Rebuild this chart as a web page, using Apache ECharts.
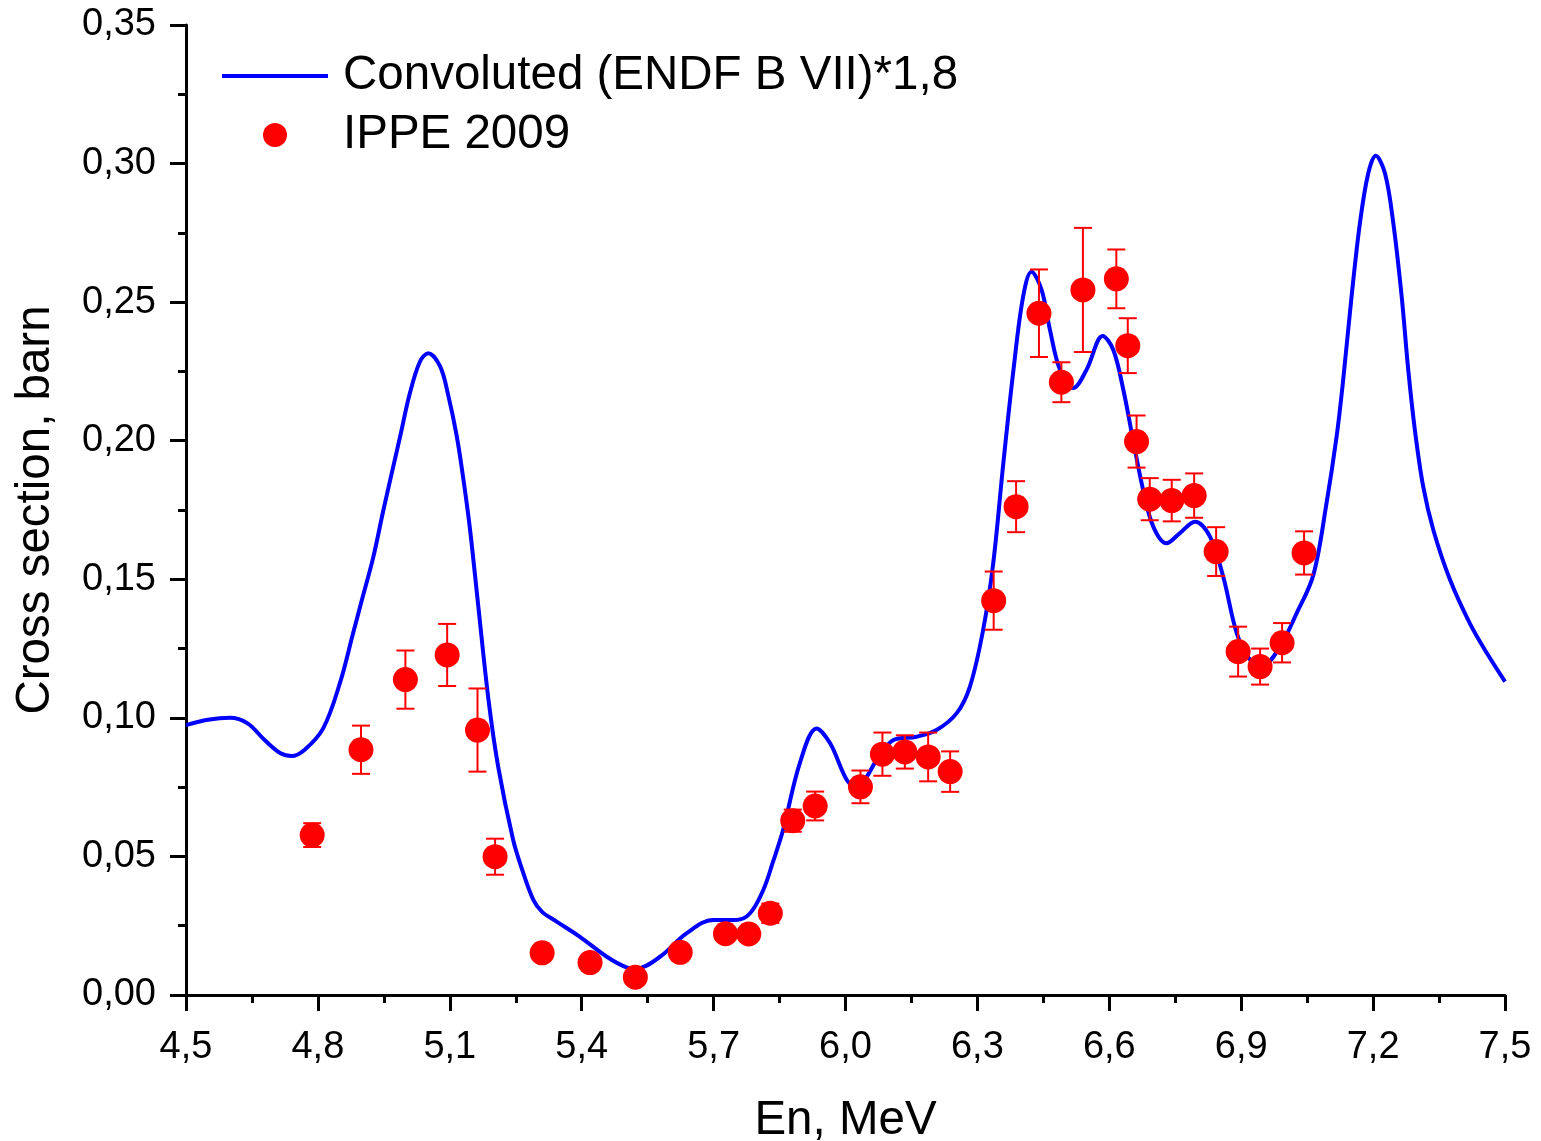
<!DOCTYPE html>
<html>
<head>
<meta charset="utf-8">
<script src="https://cdn.jsdelivr.net/npm/echarts@6/dist/echarts.min.js"></script>
<style>
html,body{margin:0;padding:0;background:#fff;}
#chart{width:1541px;height:1141px;}
</style>
</head>
<body>
<div id="chart"></div>
<script>
// Convoluted (ENDF B VII)*1,8 curve
const curveX = [4.500,4.550,4.600,4.640,4.680,4.715,4.740,4.770,4.812,4.850,4.880,4.900,4.926,4.949,4.968,4.987,5.009,5.032,5.051,5.078,5.097,5.116,5.131,5.146,5.165,5.188,5.210,5.244,5.264,5.290,5.310,5.343,5.396,5.457,5.502,5.525,5.578,5.639,5.699,5.752,5.783,5.813,5.835,5.858,5.896,5.934,5.965,6.003,6.025,6.045,6.071,6.109,6.162,6.207,6.253,6.283,6.313,6.336,6.359,6.382,6.404,6.423,6.446,6.465,6.488,6.518,6.548,6.585,6.609,6.632,6.654,6.677,6.700,6.730,6.760,6.795,6.829,6.859,6.890,6.920,6.950,6.988,7.026,7.064,7.094,7.117,7.132,7.151,7.170,7.189,7.206,7.227,7.246,7.265,7.280,7.295,7.314,7.337,7.375,7.420,7.459,7.500];
const curveY = [0.0974,0.0993,0.1000,0.0980,0.0918,0.0872,0.0862,0.0885,0.0962,0.1125,0.1305,0.1425,0.1580,0.1750,0.1883,0.2015,0.2170,0.2285,0.2316,0.2268,0.2160,0.2015,0.1860,0.1680,0.1400,0.1065,0.0824,0.0560,0.0455,0.0343,0.0300,0.0265,0.0210,0.0138,0.0100,0.0096,0.0138,0.0223,0.0271,0.0271,0.0295,0.0379,0.0480,0.0595,0.0836,0.0962,0.0908,0.0776,0.0750,0.0780,0.0848,0.0920,0.0932,0.0956,0.1017,0.1113,0.1317,0.1558,0.1919,0.2255,0.2520,0.2610,0.2544,0.2400,0.2255,0.2190,0.2255,0.2378,0.2328,0.2183,0.2003,0.1822,0.1690,0.1630,0.1666,0.1708,0.1654,0.1510,0.1305,0.1210,0.1191,0.1257,0.1377,0.1515,0.1774,0.2015,0.2220,0.2520,0.2785,0.2965,0.3028,0.2965,0.2785,0.2520,0.2255,0.2039,0.1834,0.1678,0.1498,0.1341,0.1233,0.1131];

// IPPE 2009 experimental points
const expX = [4.787,4.898,4.999,5.094,5.163,5.203,5.310,5.419,5.522,5.624,5.727,5.780,5.829,5.880,5.931,6.034,6.084,6.135,6.188,6.238,6.337,6.388,6.440,6.491,6.540,6.616,6.642,6.662,6.692,6.742,6.793,6.843,6.893,6.943,6.993,7.043];
const expY = [0.0577,0.0885,0.1138,0.1227,0.0956,0.0499,0.0152,0.0117,0.0064,0.0154,0.0221,0.0220,0.0295,0.0629,0.0682,0.0751,0.0869,0.0877,0.0859,0.0806,0.1423,0.1762,0.2460,0.2211,0.2544,0.2584,0.2343,0.1997,0.1789,0.1784,0.1802,0.1600,0.1239,0.1185,0.1271,0.1595];
const expErr = [0.0043,0.0087,0.0105,0.0112,0.0150,0.0065,0.0020,0.0020,0.0020,0.0020,0.0020,0.0020,0.0035,0.0040,0.0052,0.0059,0.0078,0.0060,0.0088,0.0073,0.0105,0.0092,0.0158,0.0072,0.0224,0.0106,0.0099,0.0094,0.0076,0.0075,0.0080,0.0088,0.0090,0.0065,0.0071,0.0078];

const seriesNames = ['Convoluted (ENDF B VII)*1,8', 'IPPE 2009'];
const xTitle = 'En, MeV';
const yTitle = 'Cross section, barn';

const FONT = "'Liberation Sans', Arial, sans-serif";
const chart = echarts.init(document.getElementById('chart'), null, {renderer: 'canvas'});

const curveData = curveX.map((x, i) => [x, curveY[i]]);
const expData = expX.map((x, i) => [x, expY[i]]);
const errData = expX.map((x, i) => [x, expY[i] - expErr[i], expY[i] + expErr[i]]);

const axisCommon = {
  axisLine: {show: true, onZero: false, lineStyle: {color: '#000', width: 3}},
  axisTick: {show: true, inside: false, length: 16, lineStyle: {color: '#000', width: 3}},
  minorTick: {show: true, splitNumber: 2, length: 8, lineStyle: {color: '#000', width: 3}},
  splitLine: {show: false},
  minorSplitLine: {show: false}
};

chart.setOption({
  animation: false,
  backgroundColor: '#fff',
  grid: {left: 186, right: 36, top: 25, bottom: 146, containLabel: false, outerBoundsMode: 'none'},
  legend: {
    orient: 'vertical',
    left: 217,
    top: 47,
    itemWidth: 106,
    itemHeight: 24,
    itemGap: 11,
    symbolKeepAspect: true,
    data: [
      {name: seriesNames[0], icon: 'path://M0,0 H106 V4 H0 Z'},
      {name: seriesNames[1], icon: 'circle'}
    ],
    textStyle: {fontFamily: FONT, fontSize: 47.5, color: '#000', padding: [0, 0, 0, 10]}
  },
  xAxis: Object.assign({
    type: 'value',
    min: 4.5, max: 7.5, interval: 0.3,
    name: xTitle,
    nameLocation: 'middle',
    nameGap: 102,
    nameTextStyle: {fontFamily: FONT, fontSize: 47.5, color: '#000'},
    axisLabel: {
      fontFamily: FONT, fontSize: 38, color: '#000', margin: 34,
      formatter: v => v.toFixed(1).replace('.', ',')
    }
  }, axisCommon),
  yAxis: Object.assign({
    type: 'value',
    min: 0, max: 0.35, interval: 0.05,
    name: yTitle,
    nameLocation: 'middle',
    nameGap: 126,
    nameTextStyle: {fontFamily: FONT, fontSize: 47.5, color: '#000'},
    axisLabel: {
      fontFamily: FONT, fontSize: 38, color: '#000', margin: 30,
      formatter: v => v.toFixed(2).replace('.', ',')
    }
  }, axisCommon),
  series: [
    {
      name: seriesNames[0],
      type: 'line',
      data: curveData,
      smooth: 0.35,
      symbol: 'none',
      lineStyle: {color: '#0000ff', width: 4},
      itemStyle: {color: '#0000ff'},
      z: 2
    },
    {
      name: 'errors',
      type: 'custom',
      data: errData,
      encode: {x: 0, y: [1, 2]},
      z: 3,
      renderItem: function (params, api) {
        const x = api.value(0);
        const lo = api.coord([x, api.value(1)]);
        const hi = api.coord([x, api.value(2)]);
        const hw = 9;
        const st = {stroke: '#ff0000', lineWidth: 2};
        return {
          type: 'group',
          children: [
            {type: 'line', shape: {x1: lo[0], y1: lo[1], x2: hi[0], y2: hi[1]}, style: st},
            {type: 'line', shape: {x1: hi[0] - hw, y1: hi[1], x2: hi[0] + hw, y2: hi[1]}, style: st},
            {type: 'line', shape: {x1: lo[0] - hw, y1: lo[1], x2: lo[0] + hw, y2: lo[1]}, style: st}
          ]
        };
      }
    },
    {
      name: seriesNames[1],
      type: 'scatter',
      data: expData,
      symbol: 'circle',
      symbolSize: 25,
      itemStyle: {color: '#ff0000', opacity: 1},
      z: 4
    }
  ]
});
</script>
</body>
</html>
